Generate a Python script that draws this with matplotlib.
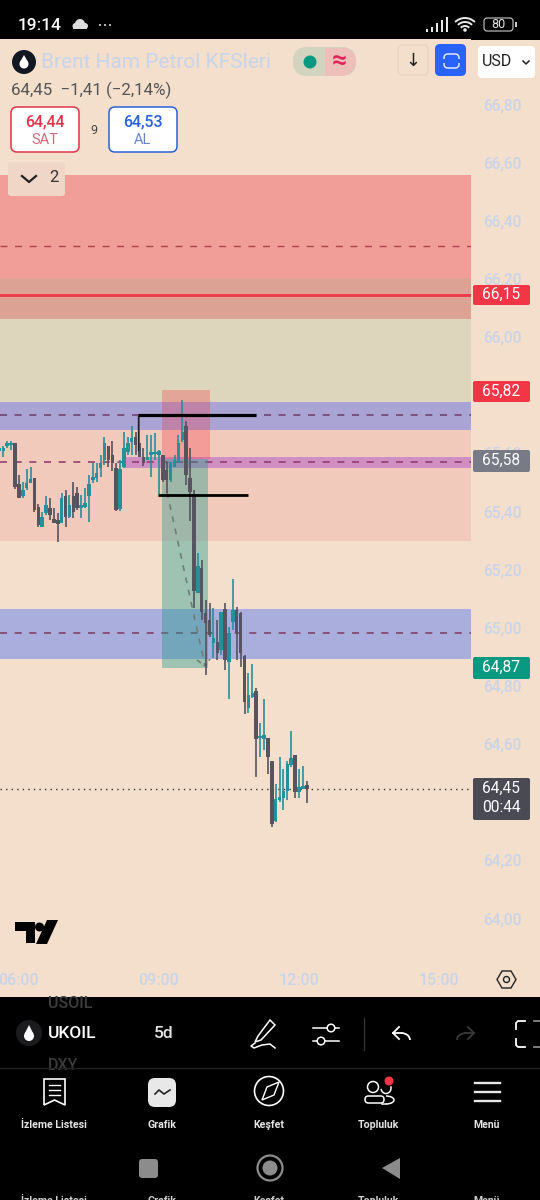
import matplotlib
matplotlib.use("Agg")
import matplotlib.pyplot as plt
import numpy as np
from matplotlib.patches import Rectangle, FancyBboxPatch, Circle, Polygon, Wedge, Arc

plt.rcParams['font.family'] = ['Roboto', 'DejaVu Sans']

# 5 min candles, first one is 25 min before 06:00
highs = [65.616, 65.622, 65.641, 65.642, 65.633, 65.524, 65.498, 65.544, 65.553, 65.513,
         65.424, 65.398, 65.452, 65.444, 65.409, 65.392, 65.463, 65.472, 65.455, 65.501,
         65.484, 65.455, 65.478, 65.524, 65.564, 65.564, 65.593, 65.654, 65.625, 65.642,
         65.564, 65.576, 65.673, 65.654, 65.693, 65.673, 65.725, 65.616, 65.662, 65.662,
         65.668, 65.610, 65.593, 65.570, 65.570, 65.593, 65.662, 65.782, 65.711, 65.616,
         65.472, 65.255, 65.232, 65.094, 65.082, 65.065, 65.025, 65.054, 65.082, 65.002,
         65.165, 65.071, 65.054, 64.905, 64.841, 64.872, 64.790, 64.672, 64.752, 64.620,
         64.541, 64.461, 64.552, 64.511, 64.541, 64.643, 64.560, 64.511, 64.523, 64.472]
lows = [65.604, 65.585, 65.616, 65.610, 65.475, 65.444, 65.444, 65.472, 65.495, 65.398,
        65.346, 65.344, 65.386, 65.369, 65.358, 65.295, 65.358, 65.344, 65.375, 65.375,
        65.404, 65.375, 65.409, 65.363, 65.495, 65.501, 65.518, 65.559, 65.553, 65.536,
        65.401, 65.401, 65.547, 65.593, 65.593, 65.593, 65.585, 65.555, 65.576, 65.516,
        65.576, 65.459, 65.501, 65.461, 65.501, 65.550, 65.564, 65.639, 65.490, 65.367,
        65.065, 65.117, 65.025, 64.836, 64.968, 64.893, 64.887, 64.905, 64.853, 64.752,
        64.991, 64.887, 64.864, 64.701, 64.704, 64.755, 64.484, 64.552, 64.578, 64.495,
        64.314, 64.331, 64.400, 64.373, 64.406, 64.518, 64.411, 64.411, 64.442, 64.394]
opens = [65.608, 65.608, 65.624, 65.627, 65.633, 65.493, 65.452, 65.478, 65.495, 65.513,
         65.415, 65.344, 65.392, 65.409, 65.372, 65.369, 65.358, 65.452, 65.381, 65.452,
         65.461, 65.409, 65.415, 65.450, 65.507, 65.513, 65.547, 65.576, 65.625, 65.593,
         65.547, 65.406, 65.550, 65.604, 65.639, 65.656, 65.633, 65.585, 65.576, 65.593,
         65.596, 65.593, 65.593, 65.541, 65.507, 65.553, 65.570, 65.645, 65.693, 65.513,
         65.455, 65.117, 65.203, 65.050, 65.025, 64.945, 64.950, 64.922, 65.062, 64.882,
         65.019, 65.059, 65.048, 64.901, 64.721, 64.761, 64.782, 64.618, 64.614, 64.620,
         64.541, 64.334, 64.406, 64.411, 64.438, 64.526, 64.560, 64.434, 64.445, 64.457]
closes = [65.614, 65.616, 65.633, 65.635, 65.484, 65.444, 65.472, 65.495, 65.511, 65.404,
          65.352, 65.381, 65.421, 65.386, 65.358, 65.356, 65.444, 65.381, 65.421, 65.398,
          65.409, 65.421, 65.427, 65.493, 65.518, 65.530, 65.564, 65.633, 65.576, 65.564,
          65.404, 65.544, 65.616, 65.633, 65.650, 65.627, 65.587, 65.564, 65.585, 65.604,
          65.604, 65.608, 65.507, 65.507, 65.567, 65.576, 65.633, 65.673, 65.524, 65.467,
          65.126, 65.211, 65.054, 65.014, 64.973, 64.962, 64.910, 65.054, 64.887, 64.979,
          65.059, 64.979, 64.913, 64.744, 64.767, 64.773, 64.614, 64.626, 64.629, 64.555,
          64.323, 64.408, 64.417, 64.438, 64.529, 64.549, 64.434, 64.451, 64.451, 64.442]

price_ticks = [64.0, 64.2, 64.4, 64.6, 64.8, 65.0, 65.2, 65.4, 65.6, 65.8, 66.0, 66.2, 66.4, 66.6, 66.8]
hidden_ticks = [64.4, 65.8]  # sit fully behind the price boxes
time_ticks = [0, 36, 72, 108]
time_labels = ['06:00', '09:00', '12:00', '15:00']

W, H = 540, 1200
BG = '#f3dfcc'
UP = '#26909a'
DOWN = '#57535f'
AXIS_TXT = '#c9d4e9'

# pixel helpers for the chart axes
PX_PER_UNIT = 290.7
def py(y):
    return 66.8 - (y - 104) / PX_PER_UNIT
def kx(x):
    return (x - 18.9) / 3.89

fig = plt.figure(figsize=(W / 100, H / 100), dpi=100, facecolor='black')
# cream strips under the axis labels
fig.patches.append(Rectangle((471 / W, 1 - 998 / H), 69 / W, 958 / H, transform=fig.transFigure, color=BG, lw=0, zorder=-1))
fig.patches.append(Rectangle((0, 1 - 998 / H), 471 / W, 33 / H, transform=fig.transFigure, color=BG, lw=0, zorder=-1))

ax = fig.add_axes([0, 1 - 965 / H, 471 / W, (965 - 39) / H])
ax.set_facecolor(BG)
ax.set_xlim(kx(0), kx(471))
ax.set_ylim(py(965), py(39))
for s in ax.spines.values():
    s.set_visible(False)
ax.set_yticks(price_ticks)
ax.set_yticklabels(['' if p in hidden_ticks else f'{p:.2f}'.replace('.', ',') for p in price_ticks],
                   color=AXIS_TXT, fontsize=11.2, fontweight='medium', va='center_baseline')
ax.yaxis.tick_right()
ax.tick_params(axis='y', length=0, pad=9)
ax.set_xticks(time_ticks)
ax.set_xticklabels(time_labels, color=AXIS_TXT, fontsize=11.5, fontweight='medium')
ax.tick_params(axis='x', length=0, pad=5.5)

# zones
ax.axhspan(py(175), py(319), color='#f23645', alpha=0.38, lw=0, zorder=1)
ax.axhspan(py(278), py(402), color='#8fb98a', alpha=0.22, lw=0, zorder=1)
ax.axhspan(py(402), py(541), color='#f23645', alpha=0.12, lw=0, zorder=1)
ax.axhspan(py(402), py(430), color='#6d86ea', alpha=0.55, lw=0, zorder=1.1)
ax.axhspan(py(609), py(659), color='#6d86ea', alpha=0.55, lw=0, zorder=1.1)
ax.fill_between([kx(125), kx(471)], py(468), py(457), color='#ba68c8', alpha=0.6, lw=0, zorder=1.2)

ax.axhline(py(246), color='#a8434f', lw=1.0, dashes=(5, 5.5), zorder=1.5)
ax.axhline(py(415), color='#6a3f68', lw=1.1, dashes=(4.6, 5), zorder=1.5)
ax.axhline(py(462), color='#8a3566', lw=1.1, dashes=(4.6, 5), zorder=1.5)
ax.axhline(py(633), color='#7e3860', lw=1.1, dashes=(4.6, 5), zorder=1.5)
ax.axhline(py(295), color='#f23645', lw=2.0, zorder=1.5)
ax.axhline(closes[-1], color='#333333', lw=1.0, dashes=(1, 3), zorder=1.5)

# position tool
ax.add_patch(Rectangle((kx(162), py(459)), kx(210) - kx(162), py(390) - py(459), color='#f23645', alpha=0.3, lw=0, zorder=2))
ax.add_patch(Rectangle((kx(162), py(668)), kx(208) - kx(162), py(459) - py(668), color='#2a9d8f', alpha=0.42, lw=0, zorder=2))
ax.plot([kx(167), kx(205)], [py(492), py(666)], color='#6f7f78', lw=1.2, dashes=(3.5, 4), zorder=2.5)
ax.plot([kx(197), kx(205), kx(210)], [py(660), py(666), py(659)], color='#6f7f78', lw=1.2, dashes=(3, 2), zorder=2.5)

# candles
idx = np.arange(len(opens)) - 5
for i, o, h, l, c in zip(idx, opens, highs, lows, closes):
    col = UP if c >= o else DOWN
    ax.plot([i, i], [l, h], color=col, lw=1.2, solid_capstyle='butt', zorder=3)
    ax.add_patch(Rectangle((i - 0.45, min(o, c)), 0.9, max(abs(c - o), 0.008), color=col, lw=0, zorder=3))

# hand drawn levels
ax.plot([kx(138), kx(256)], [py(415.5), py(415.5)], color='black', lw=2.3, solid_capstyle='butt', zorder=4)
ax.plot([kx(138), kx(138)], [py(416), py(450)], color='#222222', lw=1.0, zorder=4)
ax.plot([kx(158), kx(248)], [py(495), py(495)], color='black', lw=2.0, solid_capstyle='butt', zorder=4)

# everything around the chart, in screen pixels
ui = fig.add_axes([0, 0, 1, 1])
ui.set_xlim(0, W)
ui.set_ylim(H, 0)
ui.axis('off')
ui.patch.set_alpha(0)


def box(x0, y0, x1, y1, fc, ec='none', r=3, lw=1.0, z=5):
    ui.add_patch(FancyBboxPatch((x0 + r, y0 + r), x1 - x0 - 2 * r, y1 - y0 - 2 * r,
                                boxstyle=f'round,pad={r},rounding_size={r}', fc=fc, ec=ec, lw=lw, zorder=z))


def txt(x, y, s, color='white', size=11, ha='center', weight='normal', z=6):
    return ui.text(x, y, s, color=color, fontsize=size, ha=ha, va='center', fontweight=weight, zorder=z)


# price labels
box(473, 285, 530, 305, '#f23645', r=2)
txt(501, 294.5, '66,15', size=11.2)
box(473, 381, 530, 402, '#f23645', r=2)
txt(501, 391, '65,82', size=11.2)
box(473, 450, 530, 472, '#787b86', r=2)
txt(501, 460.5, '65,58', size=11.2)
box(473, 657, 530, 679, '#089981', r=2)
txt(501, 667.5, '64,87', size=11.2)
box(473, 778, 530, 820, '#4a4a55', r=2)
txt(501, 788, '64,45', size=11.2)
txt(501, 808, '00:44', size=11.2)

# status bar
txt(18, 25, '19:14', size=12.5, ha='left', weight='medium')
ui.add_patch(Rectangle((73, 26), 14, 3, color='#dddddd', lw=0, zorder=6))
ui.add_patch(Circle((80, 24), 5, color='#dddddd', lw=0, zorder=6))
ui.add_patch(Circle((75.5, 26), 3, color='#dddddd', lw=0, zorder=6))
ui.add_patch(Circle((85, 26), 3, color='#dddddd', lw=0, zorder=6))
for x in [100, 105, 110]:
    ui.add_patch(Circle((x, 25), 1, color='#dddddd', lw=0, zorder=6))
for x, h in zip([427, 432, 437, 442, 446.5], [3, 5, 9, 12, 15]):
    ui.add_patch(Rectangle((x - 1, 32 - h), 2.4, h, color='#e8e8e8', lw=0, zorder=6))
for r in [14, 10, 6]:
    ui.add_patch(Arc((465, 32), 2 * r, 2 * r, theta1=225, theta2=315, color='#e8e8e8', lw=1.4, zorder=6))
ui.add_patch(Circle((465, 30), 1.8, color='#e8e8e8', lw=0, zorder=6))
box(484, 18, 513, 31, 'black', ec='#cccccc', r=3, lw=0.8)
txt(498.5, 25, '80', size=9, color='#e6e6e6')
ui.add_patch(Rectangle((515, 22), 1.5, 5, color='#cccccc', lw=0, zorder=6))

# header
ui.add_patch(Circle((24, 62), 12, color='#131722', lw=0, zorder=5))
ui.add_patch(Circle((24, 64), 4.5, color='white', lw=0, zorder=6))
ui.add_patch(Polygon([[24, 55], [20, 62], [28, 62]], closed=True, fc='white', ec='none', zorder=6))
txt(41, 62, 'Brent Ham Petrol KFSleri', color='#c8d4ea', size=15, ha='left')
box(293, 47, 356, 76, '#d2d4bf', r=14, z=5)
ui.add_patch(Rectangle((325, 47.5), 17, 28, color='#ecc0b8', lw=0, zorder=5.1))
ui.add_patch(Wedge((342, 61.5), 14.2, 270, 90, color='#ecc0b8', lw=0, zorder=5.1))
ui.add_patch(Circle((310, 62), 6.5, color='#089981', lw=0, zorder=6))
txt(339, 61, '≈', color='#e0245e', size=19, weight='bold')
box(398, 45, 428, 75, BG, ec='#e9d3c1', r=4)
txt(413, 61, '↓', color='#222222', size=13)
box(435, 44, 466, 76, '#2962ff', r=5)
box(444, 54, 459, 68, '#2962ff', ec='#dfe8ff', r=4, lw=1.1, z=6)
ui.add_patch(Rectangle((443, 59), 17, 4, color='#2962ff', lw=0, zorder=6.5))
box(478, 46, 535, 78, 'white', r=4)
txt(497, 62, 'USD', color='#222222', size=11.5)
ui.plot([523, 526, 529], [61, 64, 61], color='#222222', lw=1.1, zorder=6)
txt(11, 90, '64,45  −1,41 (−2,14%)', color='#555555', size=12.2, ha='left')

box(11, 107, 79, 152, 'white', ec='#dc3545', r=6, lw=1.1)
txt(45, 122, '64,44', color='#e0334c', size=11.5, weight='medium')
txt(45, 140, 'SAT', color='#d46a78', size=10.5)
txt(94, 130, '9', color='#444444', size=9)
box(109, 107, 177, 152, 'white', ec='#2962d8', r=6, lw=1.1)
txt(143, 122, '64,53', color='#2962d8', size=11.5, weight='medium')
txt(143, 140, 'AL', color='#6a85cc', size=10.5)
box(8, 162, 65, 196, '#f0d6c6', r=3, z=5)
ui.plot([22, 29, 36], [176, 182, 176], color='#222222', lw=1.6, zorder=6)
txt(54, 178, '2', color='#333333', size=12)

# tradingview logo
ui.add_patch(Polygon([[15, 922], [35, 922], [35, 943], [26, 943], [26, 931], [15, 931]], closed=True, fc='black', ec='none', zorder=6))
ui.add_patch(Circle((39.5, 927), 4.5, color='black', lw=0, zorder=6))
ui.add_patch(Polygon([[47, 920], [58, 920], [47, 944], [36, 944]], closed=True, fc='black', ec='none', zorder=6))

# settings hexagon
ui.add_patch(Polygon([[497, 979.5], [502, 971], [511, 971], [516, 979.5], [511, 988], [502, 988]], closed=True, fc='none', ec='#222222', lw=1.0, zorder=6))
ui.add_patch(Circle((506.5, 979.5), 3, fc='none', ec='#222222', lw=1.0, zorder=6))

# toolbar
ui.add_patch(Rectangle((0, 997), W, 203, color='black', lw=0, zorder=1))
t1 = txt(48, 1003, 'USOIL', color='#3c3c3c', size=11.5, ha='left', weight='medium')
t1.set_clip_path(Rectangle((0, 998), W, 70, transform=ui.transData))
t2 = txt(48, 1065, 'DXY', color='#3c3c3c', size=11.5, ha='left', weight='medium')
t2.set_clip_path(Rectangle((0, 998), W, 70, transform=ui.transData))
ui.add_patch(Circle((29, 1033), 13, color='#1c1c1f', lw=0, zorder=5))
ui.add_patch(Circle((29, 1036), 5, color='white', lw=0, zorder=6))
ui.add_patch(Polygon([[29, 1025], [24.5, 1034], [33.5, 1034]], closed=True, fc='white', ec='none', zorder=6))
txt(48, 1033, 'UKOIL', size=12.5, ha='left', weight='medium')
txt(164, 1033, '5d', color='#e6e6e6', size=12.5, weight='medium')
# pencil
ui.add_patch(Polygon([[258, 1036], [255, 1042], [261, 1040], [275, 1025], [270, 1020]], closed=True, fc='none', ec='white', lw=1.1, zorder=6))
ui.plot([255, 251, 254, 262, 270, 275], [1043, 1046, 1048, 1045, 1044, 1048], color='white', lw=1.1, zorder=6)
# sliders
ui.plot([313, 339], [1028, 1028], color='white', lw=1.1, zorder=6)
ui.plot([313, 339], [1041, 1041], color='white', lw=1.1, zorder=6)
ui.add_patch(Circle((331, 1028), 3.8, fc='black', ec='white', lw=1.1, zorder=7))
ui.add_patch(Circle((321, 1041), 3.8, fc='black', ec='white', lw=1.1, zorder=7))
ui.plot([364, 364], [1018, 1050], color='#333333', lw=1.0, zorder=6)
# undo, redo
ui.add_patch(Arc((401, 1040), 18, 14, theta1=270, theta2=360, color='white', lw=1.3, zorder=6))
ui.plot([399, 393, 399], [1027, 1033, 1039], color='white', lw=1.3, zorder=6)
ui.plot([393, 401], [1033, 1033], color='white', lw=1.3, zorder=6)
ui.add_patch(Arc((466, 1040), 18, 14, theta1=180, theta2=270, color='#3a3a3a', lw=1.3, zorder=6))
ui.plot([468, 474, 468], [1027, 1033, 1039], color='#3a3a3a', lw=1.3, zorder=6)
ui.plot([466, 474], [1033, 1033], color='#3a3a3a', lw=1.3, zorder=6)
# crop corners
ui.plot([525, 518, 516, 516], [1021, 1021, 1023, 1029], color='white', lw=1.3, zorder=6)
ui.plot([516, 516, 518, 525], [1039, 1045, 1047, 1047], color='white', lw=1.3, zorder=6)
ui.plot([534, 540], [1021, 1021], color='#888888', lw=1.3, zorder=6)
ui.plot([534, 540], [1047, 1047], color='#888888', lw=1.3, zorder=6)
ui.plot([0, W], [1068, 1068], color='#232323', lw=1.0, zorder=6)

# bottom nav
nav_x = [54, 162, 269, 378, 487]
nav_labels = ['İzleme Listesi', 'Grafik', 'Keşfet', 'Topluluk', 'Menü']
for x, lab in zip(nav_x, nav_labels):
    txt(x, 1125, lab, color='#e4e4e4', size=7.6, weight='bold')
    txt(x, 1201, lab, color='#cfcfcf', size=7.6, weight='bold')
ui.add_patch(Polygon([[44, 1079], [65, 1079], [65, 1105], [54.5, 1100], [44, 1105]], closed=True, fc='none', ec='white', lw=1.2, zorder=6))
for y in [1085, 1090, 1095]:
    ui.plot([49, 60], [y, y], color='white', lw=1.0, zorder=6)
box(148, 1078, 176, 1107, '#e8e8e8', r=7)
ui.plot([155, 159, 164, 170], [1094, 1090, 1094, 1090], color='#222222', lw=1.2, zorder=6)
ui.add_patch(Circle((269, 1091), 14.5, fc='none', ec='white', lw=1.2, zorder=6))
ui.add_patch(Polygon([[279, 1082], [274, 1095], [262, 1100], [267, 1087]], closed=True, fc='none', ec='white', lw=1.0, zorder=6))
ui.add_patch(Circle((373, 1087), 5.5, fc='none', ec='white', lw=1.1, zorder=6))
ui.add_patch(Arc((386, 1088), 10, 11, theta1=-20, theta2=170, color='white', lw=1.1, zorder=6))
box(365, 1096, 384, 1103, 'black', ec='white', r=3.4, lw=1.1, z=6.2)
ui.add_patch(Arc((386, 1100), 16, 8, theta1=-90, theta2=90, color='white', lw=1.1, zorder=6))
ui.plot([382, 386], [1104, 1104], color='white', lw=1.1, zorder=6)
ui.add_patch(Circle((389, 1081), 4.5, color='#f23645', lw=0, zorder=7))
for y in [1083, 1092, 1101]:
    ui.plot([475, 500], [y, y], color='#e6e6e6', lw=1.7, zorder=6)

# android buttons
box(139, 1159, 158, 1178, '#8c8c8c', r=3)
ui.add_patch(Circle((270, 1168), 12.5, fc='none', ec='#8c8c8c', lw=1.6, zorder=6))
ui.add_patch(Circle((270, 1168), 7.5, color='#8c8c8c', lw=0, zorder=6))
ui.add_patch(Polygon([[400, 1158], [400, 1179], [382, 1168]], closed=True, fc='#8c8c8c', ec='none', zorder=6))

fig.savefig('out.png', dpi=100, facecolor='black')
